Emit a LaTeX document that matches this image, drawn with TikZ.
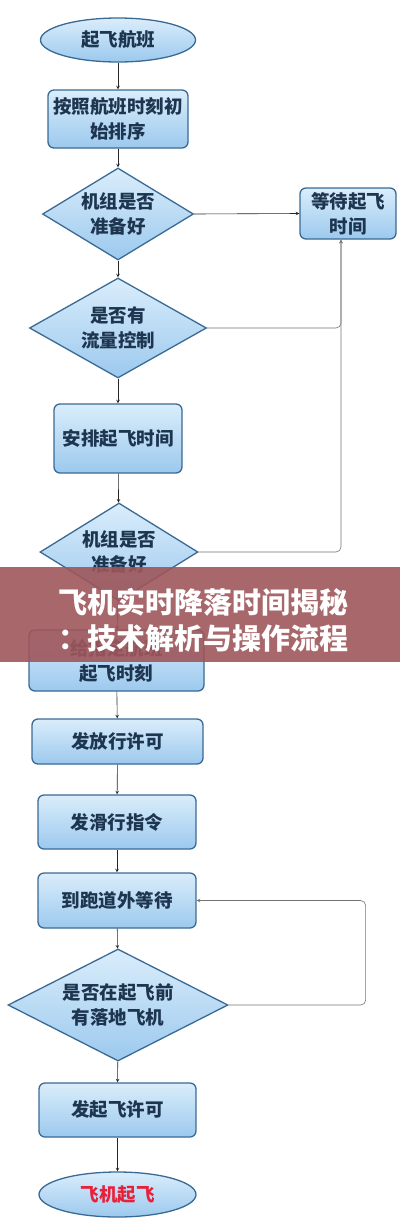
\documentclass[tikz,border=0pt]{standalone}
\usepackage{fontspec}
\setmainfont{Noto Sans CJK SC}
\usetikzlibrary{shapes.geometric}

\definecolor{boxline}{HTML}{3A6A94}
\definecolor{boxtop}{HTML}{DAEDFB}
\definecolor{boxbot}{HTML}{9CC9EE}
\definecolor{inktext}{HTML}{1E3550}
\definecolor{bannerred}{HTML}{9E565A}
\definecolor{takeoffred}{HTML}{E8203A}

\tikzset{
  proc/.style={draw=boxline, line width=1.3pt, rounded corners=6pt,
    top color=boxtop, bottom color=boxbot, inner sep=0pt},
  decision/.style={diamond, draw=boxline, line width=1.3pt,
    top color=boxtop, bottom color=boxbot, inner sep=0pt, aspect=1.6},
  terminal/.style={ellipse, draw=boxline, line width=1.3pt,
    top color=boxtop, bottom color=boxbot, inner sep=0pt},
  flow/.style={->, line width=0.6pt, black!85},
  back/.style={->, line width=0.6pt, black!55, rounded corners=5pt}
}

\begin{document}
\begin{tikzpicture}[x=1pt, y=1pt, >=stealth,
  every node/.style={font=\fontsize{18.5}{25}\selectfont\bfseries, text=inktext, align=center}]
  \useasboundingbox (0,0) rectangle (400,-1229);

  % main column
  \node[terminal, minimum width=155pt, minimum height=44pt] (start) at (118,-40) {起飞航班};
  \node[proc, minimum width=140pt, minimum height=58pt] (sort) at (118,-119) {按照航班时刻初\\始排序};
  \node[decision, minimum width=151pt, minimum height=92pt] (ready) at (118,-214) {机组是否\\准备好};
  \node[proc, minimum width=96pt, minimum height=51pt] (wait) at (348,-213.5) {等待起飞\\时间};
  \node[decision, minimum width=177pt, minimum height=100pt] (flowctl) at (118,-328) {是否有\\流量控制};
  \node[proc, minimum width=128pt, minimum height=69pt] (arrange) at (118,-438.5) {安排起飞时间};
  \node[decision, minimum width=158pt, minimum height=98pt] (ready2) at (119,-552) {机组是否\\准备好};
  \node[proc, minimum width=175pt, minimum height=61pt] (assign) at (116.5,-660.5) {给指定航班\\起飞时刻};
  \node[proc, minimum width=171pt, minimum height=45pt] (permit) at (117.5,-741.5) {发放行许可};
  \node[proc, minimum width=158pt, minimum height=54pt] (taxi) at (117,-822) {发滑行指令};
  \node[proc, minimum width=158pt, minimum height=55pt] (runway) at (117,-900.5) {到跑道外等待};
  \node[decision, minimum width=220pt, minimum height=105pt] (landing) at (118,-1005) {是否在起飞前\\有落地飞机};
  \node[proc, minimum width=157pt, minimum height=54pt] (clear) at (117.5,-1110) {发起飞许可};
  \node[terminal, minimum width=157pt, minimum height=45pt, text=takeoffred] (takeoff) at (117.5,-1194.5) {飞机起飞};

  \draw[flow] (start) -- (sort);
  \draw[flow] (sort) -- (ready);
  \draw[flow] (ready) -- (flowctl);
  \draw[flow] (flowctl) -- (arrange);
  \draw[flow] (arrange) -- (ready2);
  \draw[flow] (ready2) -- (assign);
  \draw[flow] (assign) -- (permit);
  \draw[flow] (permit) -- (taxi);
  \draw[flow] (taxi) -- (runway);
  \draw[flow] (runway) -- (landing);
  \draw[flow] (landing) -- (clear);
  \draw[flow] (clear) -- (takeoff);

  % loops back
  \draw[flow] (ready.east) -- (wait.west);
  \draw[back] (flowctl.east) -| ([xshift=-7pt]wait.south);
  \draw[back] (ready2.east) -| ([xshift=-7pt]wait.south);
  \draw[back] (landing.east) -- ++(137,0) |- (runway.east);

  % title band
  \fill[bannerred, fill opacity=0.9] (0,-567) rectangle (400,-662);
  \node[text=white, font=\fontsize{29}{36}\selectfont\bfseries] (title) at (203,-620) {飞机实时降落时间揭秘\\：技术解析与操作流程};
\end{tikzpicture}
\end{document}
